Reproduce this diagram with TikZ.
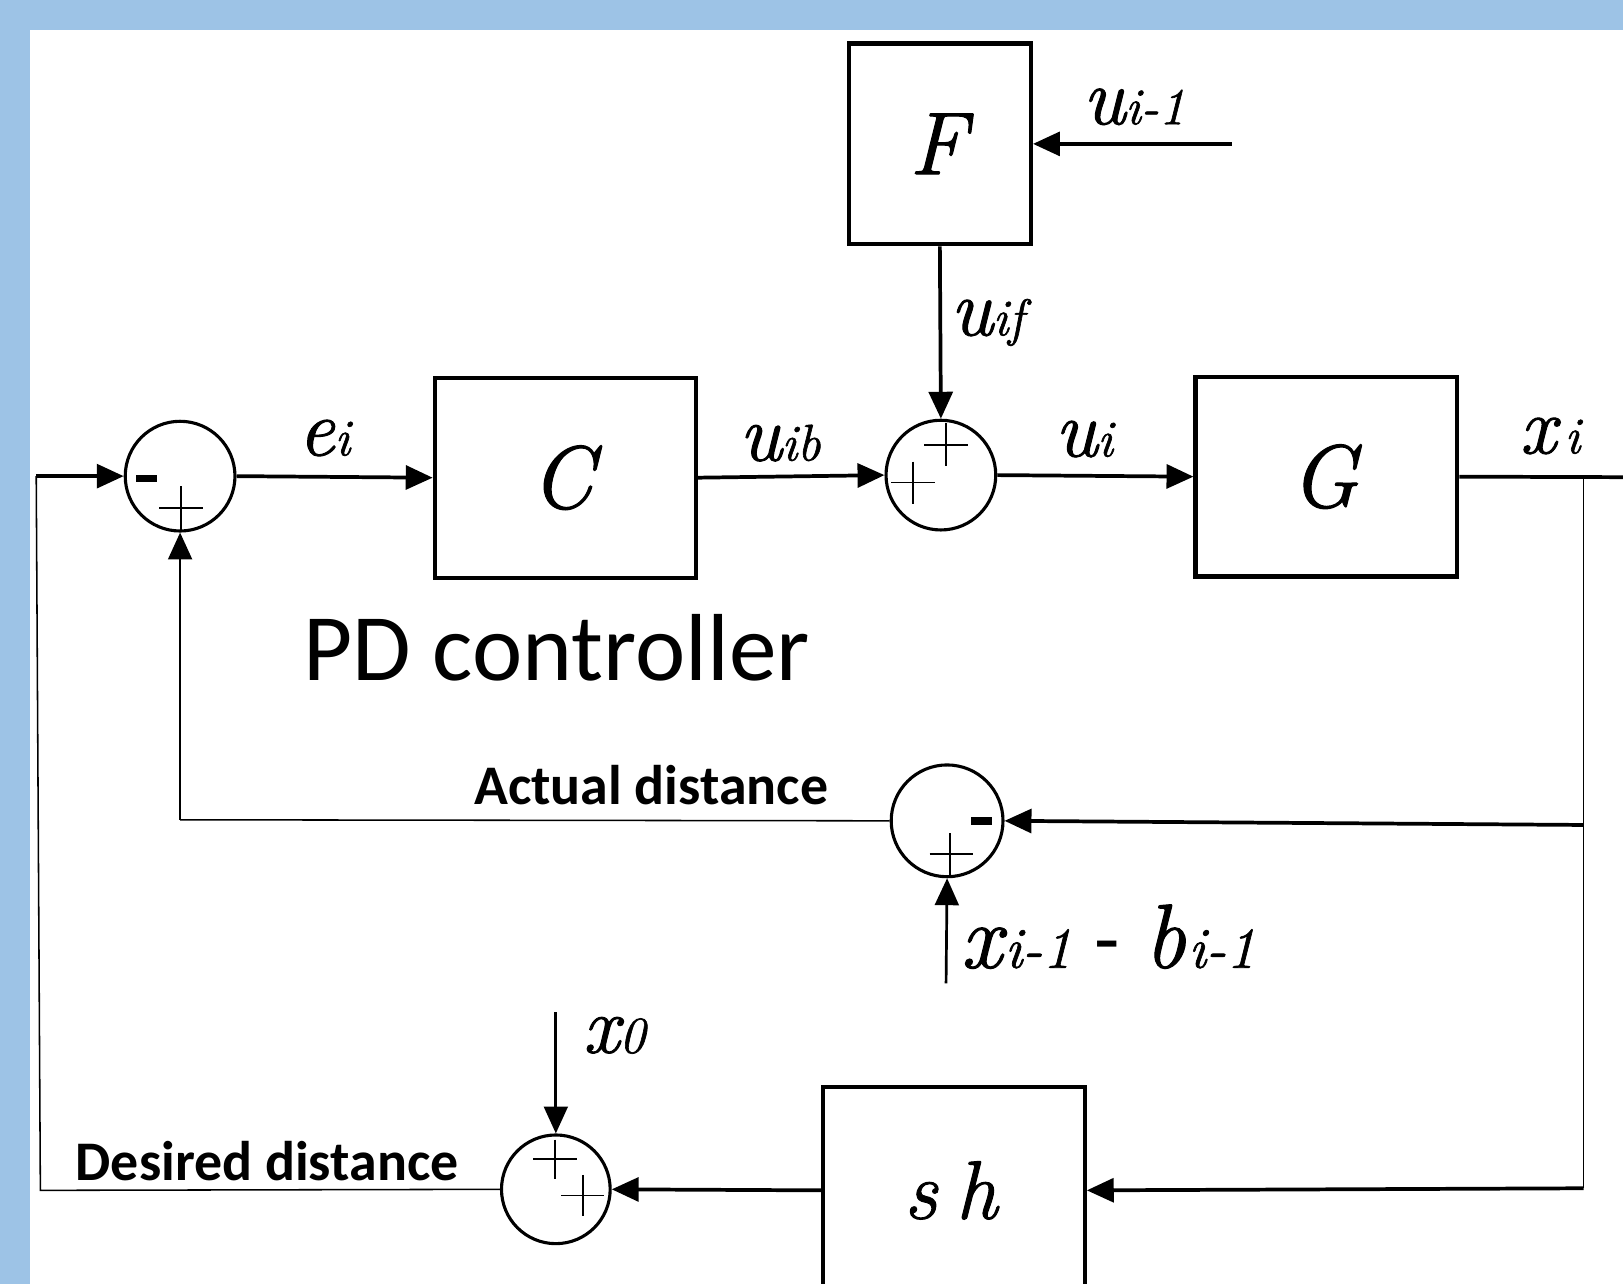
\documentclass[tikz,border=0pt]{standalone}
\usepackage{fontspec}
\newfontfamily\tms{Latin Modern Roman}[ItalicFeatures={FakeBold=1.2}]
\newfontfamily\calib{Carlito}
\usetikzlibrary{arrows.meta}
\definecolor{bgblue}{RGB}{157,195,230}
\newcommand\sublab[2]{{\tms\itshape\fontsize{78}{78}\selectfont #1}{\tms\itshape\fontsize{50}{50}\selectfont #2}}
\newcommand\biglab[2]{{\tms\itshape\fontsize{88}{88}\selectfont #1}{\tms\itshape\fontsize{56}{56}\selectfont\kern3pt #2}}
\begin{document}
\begin{tikzpicture}[x=1pt,y=-1pt,
  thickl/.style={line width=3.6pt},
  thinl/.style={line width=1.5pt},
  midl/.style={line width=2.6pt},
  arr/.style={-{Triangle[length=26pt,width=23pt]}},
  blk/.style={draw,line width=4pt,minimum width=#1,inner sep=0pt,font=\tms\itshape\fontsize{86}{86}\selectfont},
  sumc/.style={draw,circle,line width=3pt,minimum size=#1,inner sep=0pt},
  lbl/.style={inner sep=0pt,anchor=base west},
  sgn/.style={line width=1.6pt},
  minus/.style={fill=black},
  sansb/.style={inner sep=0pt,anchor=base west,font=\calib\bfseries\fontsize{54}{54}\selectfont}]
% background
\fill[bgblue] (0,0) rectangle (1568,1240);
\fill[white] (29,29) rectangle (1568,1240);
\useasboundingbox (0,0) rectangle (1568,1240);

% blocks
\node[blk=252pt,minimum height=193pt] (C) at (546,461.5) {C\kern6pt};
\node[blk=176pt,minimum height=194pt] (F) at (908,139) {F\kern4pt};
\node[blk=253pt,minimum height=193pt] (G) at (1281.5,460.5) {G\kern4pt};
\node[blk=253pt,minimum height=200pt,font=\tms\itshape\fontsize{80}{80}\selectfont] (SH) at (921.5,1150) {s\kern18pt h\kern6pt};

% summing junctions
\node[sumc=106pt] (s1) at (174,460) {};
\node[sumc=106pt] (s2) at (909,459) {};
\node[sumc=108pt] (s4) at (915,793) {};
\node[sumc=105pt] (s3) at (537,1149) {};

% signs
\draw[sgn] (154,491) -- (196,491) (175,470) -- (175,512);
\fill[minus] (131,458.5) rectangle (152,466);
\draw[sgn] (893,430) -- (935,430) (914,409) -- (914,450);
\draw[sgn] (861,466) -- (903,466) (882,446) -- (882,487);
\fill[minus] (938,789) rectangle (958,797);
\draw[sgn] (898,825) -- (940,825) (918,805) -- (918,845);
\draw[sgn] (515,1120) -- (557,1120) (536,1101) -- (536,1139);
\draw[sgn] (542,1155) -- (584,1155) (563,1135) -- (563,1175);

% coordinates
\coordinate (in) at (35,460);
\coordinate (dl) at (39,1150);
\coordinate (out) at (1568,461);
\coordinate (jr) at (1530,461);
\coordinate (jm) at (1530,797);
\coordinate (jb) at (1530,1148);
\coordinate (ca) at (174,792);
\coordinate (ui1) at (1190,139);
\coordinate (x0s) at (537,978);
\coordinate (xbs) at (914,950);

% connectors
\draw[thickl,arr] (in) -- (s1.west);
\draw[thinl] (in) -- (dl) -- (s3.west);
\draw[thickl,arr] (s1.east) -- (C.west);
\draw[thickl,arr] (C.east) -- (s2.west);
\draw[thickl,arr] (s2.east) -- (G.west);
\draw[thickl] (G.east) -- (out);
\draw[thinl] (jr) -- (jb);
\draw[thickl,arr] (jm) -- (s4.east);
\draw[thickl,arr] (jb) -- (SH.east);
\draw[thickl,arr] (SH.west) -- (s3.east);
\draw[thinl] (s4.west) -- (ca);
\draw[midl,arr] (ca) -- (s1.south);
\draw[thickl,arr] (F.south) -- (s2.north);
\draw[thickl,arr] (ui1) -- (F.east);
\draw[midl,arr] (x0s) -- (s3.north);
\draw[midl,arr] (xbs) -- (s4.south);

% labels
\node[lbl] (lei) at (288,440) {\sublab{e}{i}};
\node[lbl] (luib) at (714,445) {\sublab{u}{ib}};
\node[lbl] (luif) at (918,324) {\sublab{u}{if}};
\node[lbl] (lui1) at (1046,120) {\sublab{u}{i-1}};
\node[lbl] (lui) at (1019,441) {\sublab{u}{i}};
\node[lbl] (lxi) at (1468,438) {\sublab{x}{\,i}};
\node[lbl] (lx0) at (563,1017) {\sublab{x}{0}};
\node[lbl] (lxb) at (928,935) {\biglab{x}{i-1}{\calib\fontsize{80}{80}\selectfont\kern22pt-\kern24pt}\biglab{b}{i-1}};
\node[inner sep=0pt,anchor=base west,font=\calib\fontsize{92}{92}\selectfont] (lpd) at (293,657) {PD controller};
\node[sansb] (lact) at (458,777) {Actual distance};
\node[sansb] (ldes) at (73,1140) {Desired distance};
\end{tikzpicture}
\end{document}
